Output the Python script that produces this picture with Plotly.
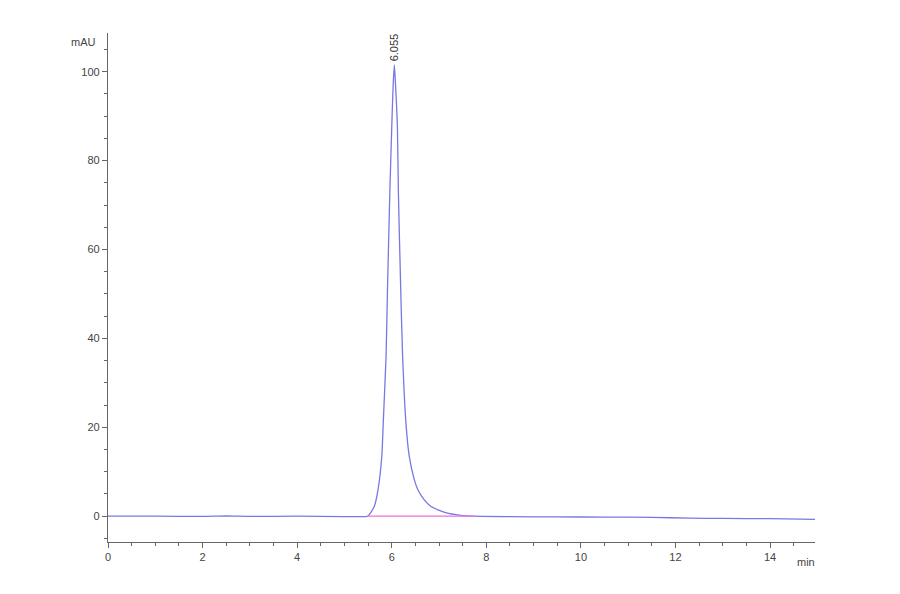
import plotly.graph_objects as go

# chromatogram trace (time in min, signal in mAU)
time_min = [0.0, 1.0, 2.0, 2.5, 3.0, 4.0, 5.0, 5.3, 5.49, 5.63, 5.71, 5.79, 5.82,
            5.88, 5.91, 5.96, 6.0, 6.03, 6.055, 6.08, 6.12, 6.14, 6.19, 6.23,
            6.30, 6.37, 6.47, 6.55, 6.68, 6.83, 7.14, 7.46, 7.75, 8.5, 9.5, 10.5, 11.5,
            12.3, 13.0, 14.0, 14.95]
signal_mau = [0.0, 0.0, -0.05, 0.05, -0.05, 0.0, -0.1, -0.1, 0.0, 2.2, 6.0, 13.5,
              21.0, 36.0, 51.0, 73.0, 87.5, 97.0, 101.5, 97.0, 87.5, 73.0, 51.0,
              36.0, 21.0, 13.5, 8.5, 6.0, 3.8, 2.2, 0.8, 0.2, 0.0, -0.1, -0.15, -0.2, -0.25,
              -0.45, -0.5, -0.55, -0.7]

# integration baseline
base_t = [5.49, 7.73]
base_y = [0.0, 0.0]

peak_rt = 6.055
peak_height = 101.5

fig = go.Figure()
fig.add_trace(go.Scatter(x=time_min, y=signal_mau, mode='lines',
                         line=dict(color='rgb(120,120,225)', width=1.3, shape='spline', smoothing=0.6),
                         hoverinfo='skip'))
fig.add_trace(go.Scatter(x=base_t, y=base_y, mode='lines',
                         line=dict(color='rgb(240,110,220)', width=1.2),
                         hoverinfo='skip'))

fig.add_annotation(x=peak_rt, y=peak_height, text=f'{peak_rt:.3f}', showarrow=False,
                   textangle=-90, yanchor='bottom', xanchor='center', yshift=2,
                   font=dict(family='Liberation Sans', size=11, color='#333'))
fig.add_annotation(x=0, y=1, xref='paper', yref='paper', text='mAU', showarrow=False,
                   xanchor='right', yanchor='middle', xshift=-10, yshift=-9,
                   font=dict(family='Liberation Sans', size=11, color='#444'))
fig.add_annotation(x=1, y=0, xref='paper', yref='paper', text='min', showarrow=False,
                   xanchor='right', yanchor='top', xshift=2, yshift=-12,
                   font=dict(family='Liberation Sans', size=11, color='#444'))

fig.update_xaxes(range=[0, 14.95], tickvals=[0, 2, 4, 6, 8, 10, 12, 14],
                 showline=True, linecolor='#666', linewidth=1.3, ticks='outside',
                 ticklen=5, tickcolor='#666', showgrid=False, zeroline=False,
                 minor=dict(dtick=0.5, ticks='outside', ticklen=3, tickcolor='#666'),
                 tickfont=dict(family='Liberation Sans', size=11, color='#444'))
fig.update_yaxes(range=[-5.8, 108.7], tickvals=[0, 20, 40, 60, 80, 100],
                 showline=True, linecolor='#666', linewidth=1.3, ticks='outside',
                 ticklen=5, tickcolor='#666', showgrid=False, zeroline=False,
                 minor=dict(dtick=5, ticks='outside', ticklen=3, tickcolor='#666'),
                 tickfont=dict(family='Liberation Sans', size=11, color='#444'))

# page body adds 8px, so margins are shifted to land the axes where the reference has them
fig.update_layout(width=900, height=594, showlegend=False,
                  plot_bgcolor='white', paper_bgcolor='white',
                  margin=dict(l=100, r=93, t=25, b=60))

fig.write_html("out.html")
